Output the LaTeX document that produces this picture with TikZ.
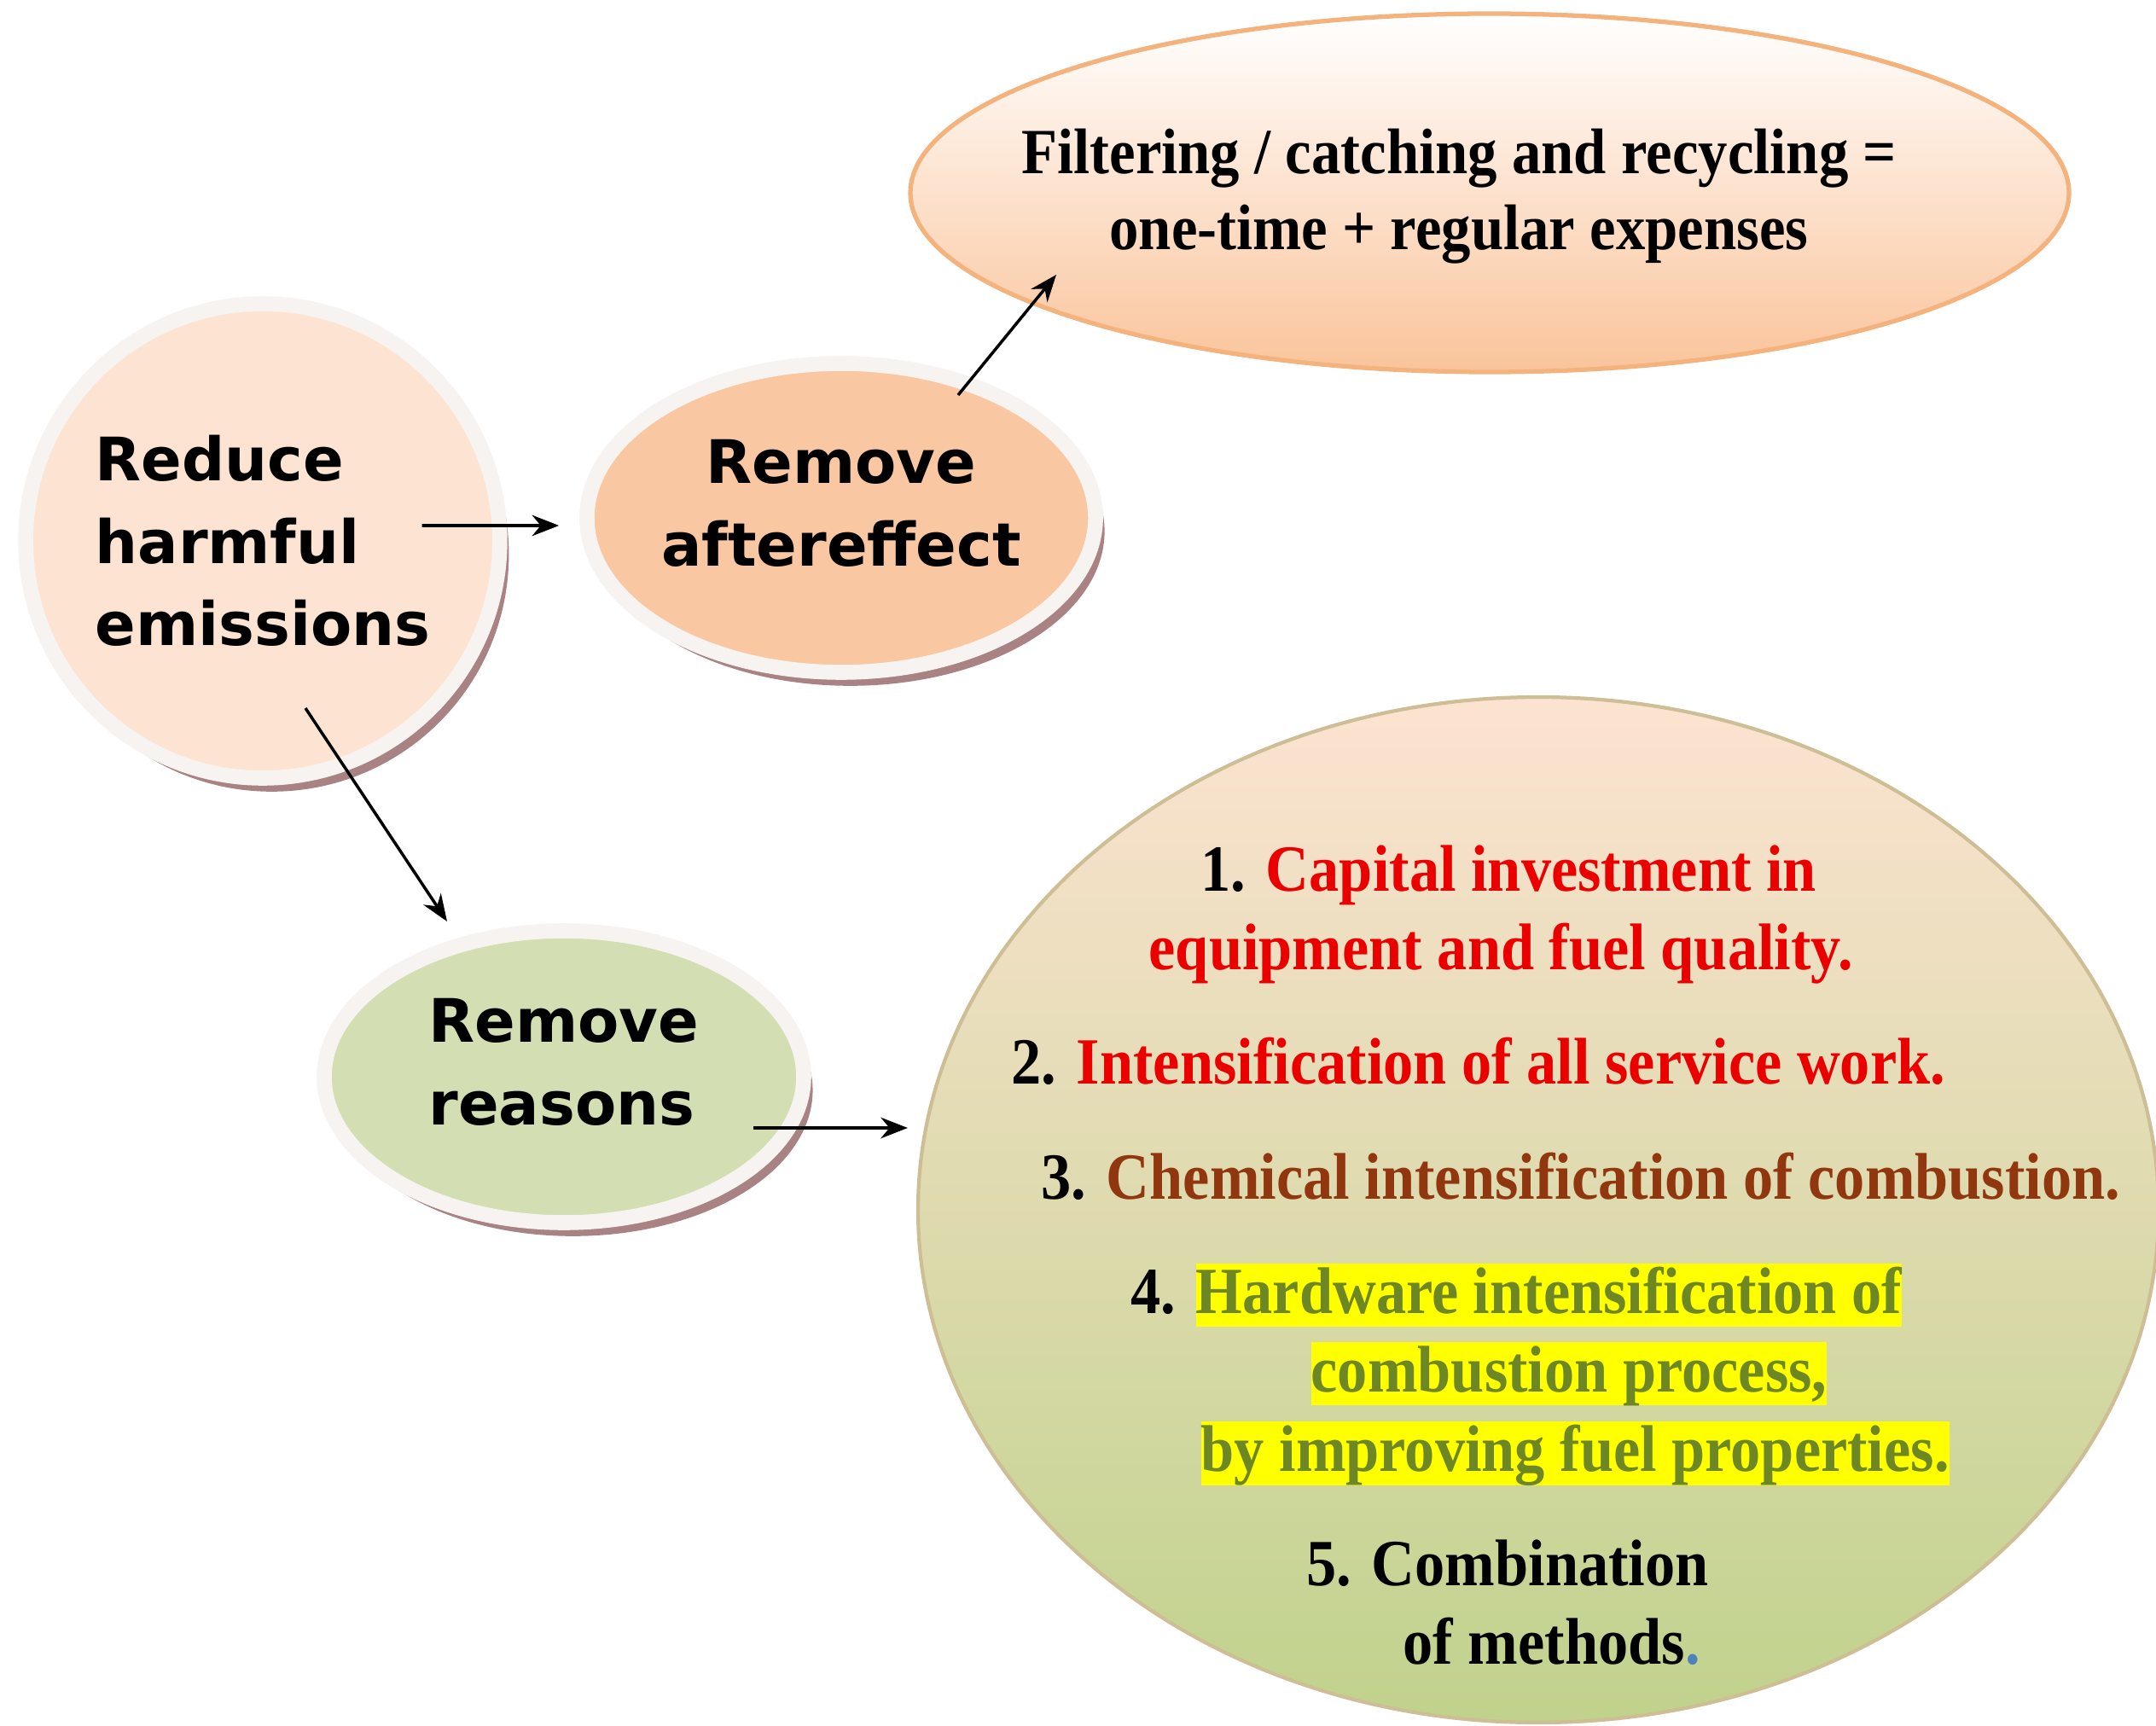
\documentclass[tikz,border=0pt]{standalone}
\usepackage{fontspec}
\usepackage{tikz}
\usetikzlibrary{shapes.geometric}
\usetikzlibrary{shadows}
\usetikzlibrary{arrows.meta}
\usetikzlibrary{positioning}

\newfontfamily\sansbold{DejaVu Sans}
\newfontfamily\serifcond[FakeStretch=0.91]{Liberation Serif}

\definecolor{peachlight}{RGB}{253,228,210}
\definecolor{peachmid}{RGB}{249,200,163}
\definecolor{greenlight}{RGB}{211,223,178}
\definecolor{rimwhite}{RGB}{246,243,241}
\definecolor{shadowbrown}{RGB}{160,118,118}
\definecolor{peachdeep}{RGB}{250,196,155}
\definecolor{orangerim}{RGB}{244,178,125}
\definecolor{methodstop}{RGB}{252,227,209}
\definecolor{methodsbottom}{RGB}{192,210,140}
\definecolor{methodsrim}{RGB}{205,190,150}
\definecolor{itemred}{RGB}{235,0,0}
\definecolor{itembrown}{RGB}{145,55,15}
\definecolor{itemolive}{RGB}{108,135,35}
\definecolor{hlyellow}{RGB}{255,255,0}
\definecolor{dotblue}{RGB}{79,129,189}

\newcommand{\hlyel}[1]{{\setlength{\fboxsep}{0pt}\colorbox{hlyellow}{\rule[-4.5pt]{0pt}{21pt}#1}}}

\tikzstyle{bubble}=[ellipse, inner sep=0pt, draw=rimwhite, line width=5pt,
    drop shadow={shadow xshift=3pt, shadow yshift=-4.5pt, fill=shadowbrown, opacity=0.9},
    font=\fontsize{20pt}{27.5pt}\selectfont\sansbold\bfseries]
\tikzstyle{connector}=[-{Stealth[length=9pt,width=7pt]}, line width=1pt, black]
\tikzstyle{itemline}=[anchor=base west, inner sep=0pt,
    font=\fontsize{22pt}{26pt}\selectfont\serifcond\bfseries]

\begin{document}
\begin{tikzpicture}
  \useasboundingbox (0,0) rectangle (25.27,20.22);
  \node[ellipse, minimum width=13.58cm, minimum height=4.2cm, top color=white, bottom color=peachdeep,
        draw=orangerim, line width=1.5pt] (filter) at (17.46,17.96) {};
  \node[align=center, font=\fontsize{21.5pt}{25.2pt}\selectfont\serifcond\bfseries]
        (filtertext) at ([shift={(-0.36,-0.04)}]filter.center)
        {Filtering / catching and recycling =\\one-time + regular expenses};
  \node[ellipse, minimum width=14.54cm, minimum height=12.02cm, top color=methodstop,
        bottom color=methodsbottom, draw=methodsrim, line width=1.2pt] (methods) at (18.03,6.04) {};
  \node[bubble, fill=peachlight, minimum width=5.4cm, minimum height=5.56cm, align=left] (reduce) at (3.08,13.88) {Reduce\\harmful\\emissions};
  \node[bubble, fill=peachmid, minimum width=5.62cm, minimum height=3.62cm, align=center, text depth=0.35cm] (after) at (9.86,14.15) {Remove\\aftereffect};
  \node[bubble, fill=greenlight, minimum width=5.62cm, minimum height=3.42cm, align=left, text depth=0.35cm] (reasons) at (6.61,7.60) {Remove\\reasons};
  \draw[connector] ([xshift=-1.0cm,yshift=0.18cm]reduce.east) -- ([xshift=-0.24cm,yshift=-0.09cm]after.west);
  \draw[connector] ([shift={(1.37,1.44)}]after.center) -- ([shift={(-5.08,-0.96)}]filter.center);
  \draw[connector] ([shift={(0.50,-1.96)}]reduce.center) -- ([shift={(-1.37,1.82)}]reasons.center);
  \draw[connector] ([shift={(2.22,-0.60)}]reasons.center) -- ([xshift=-0.1cm,yshift=0.96cm]methods.west);
  % items of the big ellipse
  \node[itemline] (it1a) at (14.07,9.78) {1. \textcolor{itemred}{Capital investment in}};
  \node[itemline, text=itemred] (it1b) at (13.46,8.86) {equipment and fuel quality.};
  \node[itemline] (it2) at (11.85,7.52) {2. \textcolor{itemred}{Intensification of all service work.}};
  \node[itemline] (it3) at (12.20,6.17) {3. \textcolor{itembrown}{Chemical intensification of combustion.}};
  \node[itemline] (it4a) at (13.25,4.83) {4. \textcolor{itemolive}{\hlyel{Hardware intensification of}}};
  \node[itemline, text=itemolive] (it4b) at (15.36,3.91) {\hlyel{combustion process,}};
  \node[itemline, text=itemolive] (it4c) at (14.07,2.98) {\hlyel{by improving fuel properties.}};
  \node[itemline] (it5a) at (15.31,1.64) {5. Combination};
  \node[itemline] (it5b) at (16.44,0.72) {of methods\textcolor{dotblue}{.}};
\end{tikzpicture}
\end{document}
